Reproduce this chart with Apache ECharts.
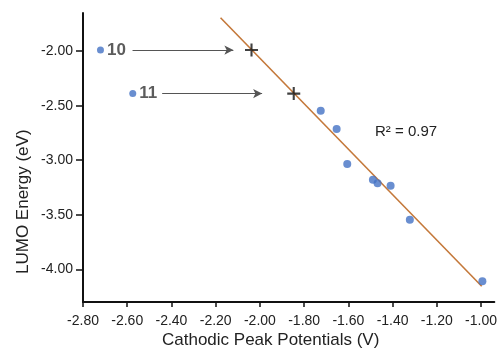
<!DOCTYPE html>
<html>
<head>
<meta charset="utf-8">
<script src="https://cdn.jsdelivr.net/npm/echarts@6/dist/echarts.min.js"></script>
<style>
    html, body { margin: 0; padding: 0; background: #fff; }
    #container { width: 500px; height: 354px; }
</style>
</head>
<body>
<div id="container"></div>
<script>
// measured compounds
var potentials = [-1.725, -1.653, -1.605, -1.489, -1.468, -1.409, -1.322, -0.994];
var lumoValues = [-2.547, -2.714, -3.034, -3.180, -3.210, -3.234, -3.545, -4.110];
// compounds 10 and 11, and where they land on the fit
var outlierNames = ['10', '11'];
var outlierX = [-2.721, -2.575];
var outlierY = [-1.99, -2.389];
var projectedX = [-2.038, -1.847];
// arrows from the label to the fit line
var arrowFromX = [-2.576, -2.442];
var arrowToX = [-2.120, -1.990];
// fitted line ends
var fitX = [-2.178, -0.997];
var fitY = [-1.693, -4.156];
var xTicks = [-2.8, -2.6, -2.4, -2.2, -2.0, -1.8, -1.6, -1.4, -1.2, -1.0];
var yTicks = [-4.0, -3.5, -3.0, -2.5, -2.0];

var ChartModule = (function (echarts) {
    var chart;
    var font = 'Liberation Sans, Arial, sans-serif';

    function pairs(xs, ys) {
        return xs.map(function (v, k) {
            return [v, ys[k]];
        });
    }

    function init() {
        chart = echarts.init(document.getElementById('container'));

        var arrows = arrowFromX.map(function (v, k) {
            return [{ coord: [v, outlierY[k]] }, { coord: [arrowToX[k], outlierY[k]] }];
        });

        var option = {
            animation: false,
            grid: { left: 83, right: 0, top: 13, bottom: 52 },
            xAxis: {
                type: 'value',
                min: -2.8,
                max: -0.94,
                splitLine: { show: false },
                axisLine: { onZero: false, lineStyle: { color: '#111', width: 2 } },
                axisTick: { length: 5, lineStyle: { color: '#111', width: 1.5 }, customValues: xTicks },
                axisLabel: {
                    customValues: xTicks,
                    margin: 12,
                    color: '#222',
                    fontSize: 14,
                    fontFamily: font,
                    formatter: function (v) { return v.toFixed(2); }
                }
            },
            yAxis: {
                type: 'value',
                min: -4.3,
                max: -1.65,
                splitLine: { show: false },
                axisLine: { onZero: false, lineStyle: { color: '#111', width: 2 } },
                axisTick: { length: 7, lineStyle: { color: '#111', width: 1.5 }, customValues: yTicks },
                axisLabel: {
                    customValues: yTicks,
                    margin: 10,
                    color: '#222',
                    fontSize: 14,
                    fontFamily: font,
                    formatter: function (v) { return v.toFixed(2); }
                }
            },
            graphic: [{
                type: 'text',
                left: 162,
                top: 332,
                style: { text: 'Cathodic Peak Potentials (V)', fontSize: 17, fontFamily: font, fill: '#222' }
            }, {
                type: 'text',
                x: 15,
                y: 274,
                rotation: Math.PI / 2,
                style: { text: 'LUMO Energy (eV)', fontSize: 17, fontFamily: font, fill: '#222' }
            }, {
                type: 'text',
                left: 375,
                top: 124,
                style: { text: 'R² = 0.97', fontSize: 15, fontFamily: font, fill: '#222' }
            }],
            series: [{
                type: 'line',
                data: pairs(fitX, fitY),
                symbol: 'none',
                silent: true,
                lineStyle: { color: '#C4783A', width: 1.6 },
                z: 1
            }, {
                type: 'scatter',
                data: pairs(potentials, lumoValues),
                symbolSize: 8,
                itemStyle: { color: '#4472C4' },
                z: 3
            }, {
                type: 'scatter',
                data: pairs(projectedX, outlierY),
                symbol: 'path://M4.2,0H5.8V4.2H10V5.8H5.8V10H4.2V5.8H0V4.2H4.2Z',
                symbolSize: 13,
                itemStyle: { color: '#111' },
                z: 4
            }, {
                type: 'scatter',
                data: outlierX.map(function (v, k) {
                    return { value: [v, outlierY[k]], name: outlierNames[k] };
                }),
                symbolSize: 7,
                itemStyle: { color: '#4472C4' },
                label: {
                    show: true,
                    position: 'right',
                    distance: 3,
                    formatter: '{b}',
                    color: '#333',
                    fontSize: 17,
                    fontWeight: 'bold',
                    fontFamily: font
                },
                markLine: {
                    silent: true,
                    symbol: ['none', 'arrow'],
                    symbolSize: [7, 9],
                    label: { show: false },
                    lineStyle: { color: '#555', width: 1, type: 'solid' },
                    data: arrows
                },
                z: 3
            }]
        };
        chart.setOption(option);
    }

    return { init: init };
})(echarts);

ChartModule.init();
</script>
</body>
</html>
